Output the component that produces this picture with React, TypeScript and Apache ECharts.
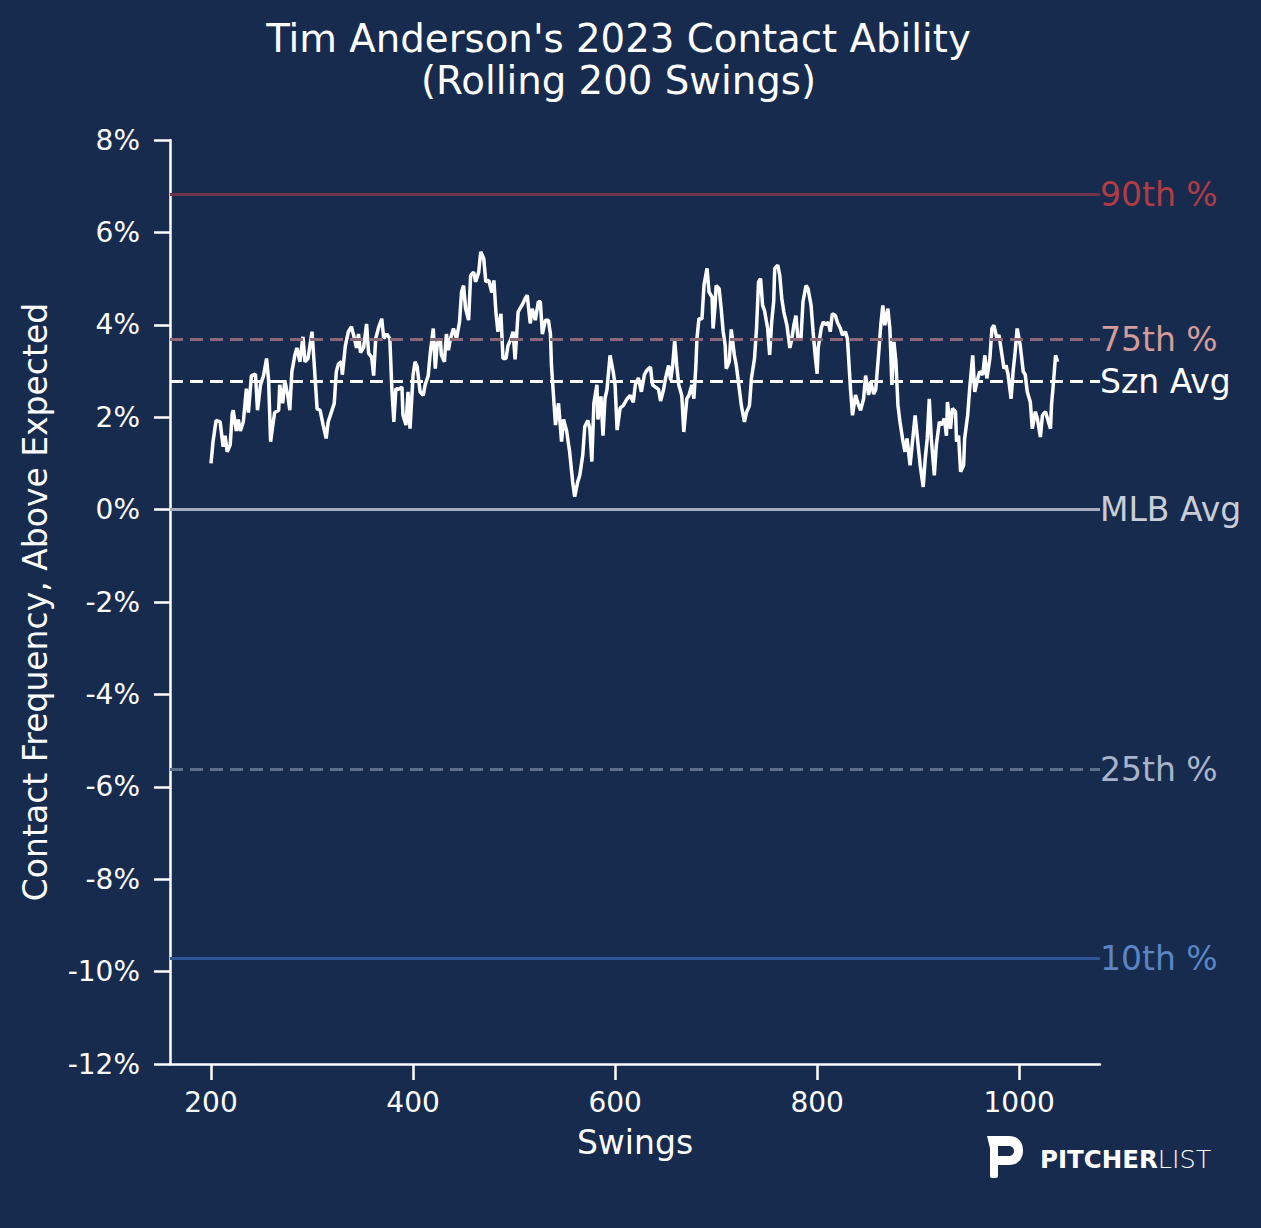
import React, { useEffect, useRef } from "react";
import * as echarts from "echarts";

// Rolling 200-swing contact frequency above expected (%)
const swings = [
  200, 202, 205, 209, 212, 214, 216, 219, 221, 222, 225, 227, 229, 232, 235, 237, 240, 244, 246, 249,
  252, 255, 257, 259, 261, 263, 267, 268, 271, 273, 276, 278, 280, 283, 285, 288, 291, 293, 296, 300,
  302, 305, 308, 311, 314, 316, 319, 322, 324, 326, 329, 330, 333, 336, 339, 342, 344, 346, 348, 351,
  354, 356, 359, 361, 363, 366, 369, 371, 374, 377, 379, 381, 383, 385, 389, 390, 393, 395, 397, 400,
  402, 404, 407, 410, 412, 415, 417, 420, 422, 424, 427, 428, 431, 433, 435, 437, 440, 443, 446, 448,
  450, 452, 455, 457, 460, 462, 465, 467, 470, 472, 475, 478, 480, 482, 484, 487, 489, 492, 494, 497,
  499, 501, 504, 508, 511, 513, 516, 518, 521, 524, 526, 528, 531, 534, 536,
  537, 541, 544, 547, 549, 552, 555, 558, 560, 563, 565, 568, 570, 573, 575, 577, 579, 582, 583, 586,
  588, 590, 592, 595, 598, 600, 602, 605, 608, 612, 615, 618, 620, 623, 626, 629, 631, 635, 637, 640,
  643, 645, 648, 650, 653, 655, 657, 659, 661, 663, 666, 668, 671, 673, 676, 678, 680, 681, 683, 686,
  688, 691, 693, 696, 697, 699, 700, 703, 705, 707, 709, 710, 713, 715, 718, 720, 723, 725, 728, 730,
  733, 735, 738, 740, 742, 744, 746, 748, 751, 753, 755, 757, 758, 761, 763, 765, 767, 770, 773, 775,
  777, 779, 781, 784, 786, 789, 791, 794, 796, 798, 800, 801, 804, 806, 809, 811, 813, 815, 818, 820,
  823, 825, 828, 830, 833,
  835, 838, 841, 843, 846, 848, 851, 853, 856, 858, 861, 863, 865, 867, 870, 872, 874, 876, 878, 880,
  882, 885, 887, 889, 892, 895, 897, 899, 902, 905, 907, 909, 911, 913, 916, 918, 921, 923, 926, 928,
  929, 932, 934, 937, 938, 940, 942, 945, 946, 949, 951, 954, 956, 959, 961, 964, 966, 968, 971, 973,
  975, 978, 980, 983, 985, 987, 989, 992, 994, 996, 998, 1001, 1004, 1006, 1008, 1011, 1013, 1016, 1018, 1021,
  1023, 1026, 1028, 1031, 1032, 1034, 1036, 1038,
];

const contactAboveExpected = [
  1.0, 1.47, 1.93, 1.9, 1.36, 1.6, 1.25, 1.4, 2.08, 2.15, 1.7, 1.95, 1.7, 1.9, 2.62, 2.1, 2.9, 2.93, 2.15, 2.7,
  2.9, 3.27, 2.8, 1.47, 1.8, 2.1, 2.15, 2.7, 2.3, 2.8, 2.47, 2.15, 2.98, 3.34, 3.5, 3.2, 3.74, 3.2, 3.27, 3.85,
  3.2, 2.18, 2.15, 1.83, 1.54, 1.9, 2.1, 2.3, 2.98, 3.15, 3.2, 2.92, 3.55, 3.85, 3.96, 3.7, 3.5, 3.8, 3.4, 3.5,
  4.02, 3.38, 3.3, 2.9, 3.7, 3.95, 4.13, 3.7, 3.8, 3.7, 2.62, 1.9, 2.62, 2.6, 2.65, 2.05, 1.83, 2.55, 1.75, 2.9,
  3.2, 3.1, 2.55, 2.47, 2.7, 2.9, 3.38, 3.92, 3.05, 3.6, 3.7, 3.35, 3.2, 3.8, 3.45, 3.7, 3.92, 3.7, 4.06, 4.71,
  4.85, 4.35, 4.1, 5.07, 5.14, 4.93, 5.14, 5.58, 5.43, 4.93, 4.96, 4.7, 4.96, 4.28, 3.85, 4.24, 3.27, 3.27, 3.55, 3.7,
  3.85, 3.25, 4.28, 4.43, 4.57, 4.64, 4.03, 4.35, 4.1, 4.5, 4.5, 3.8, 4.1, 4.1, 3.8,
  3.12, 1.83, 2.3, 1.47, 1.95, 1.7, 1.25, 0.6, 0.28, 0.6, 0.74, 1.18, 1.8, 1.93, 1.75, 1.04, 2.3, 2.7, 1.95, 2.45,
  1.6, 2.4, 2.6, 3.34, 3.0, 2.7, 1.72, 2.2, 2.25, 2.4, 2.47, 2.32, 2.7, 2.85, 2.55, 2.92, 3.0, 3.09, 2.7, 2.65,
  2.6, 2.35, 2.6, 2.85, 3.12, 2.8, 3.12, 3.66, 3.12, 2.7, 2.47, 1.68, 2.4, 2.47, 2.7, 2.4, 3.12, 3.7, 4.13, 4.13,
  4.86, 5.22, 4.71, 4.6, 3.92, 4.42, 4.85, 4.78, 4.35, 3.85, 3.55, 3.05, 3.2, 3.9, 3.35, 3.12, 2.6, 2.25, 1.9, 2.1,
  2.25, 2.85, 3.27, 3.92, 4.93, 5.0, 4.42, 4.3, 3.92, 3.35, 4.06, 4.5, 5.22, 5.29, 5.07, 4.57, 4.28, 4.0, 3.5, 3.7,
  4.0, 4.2, 3.7, 3.7, 4.5, 4.85, 4.78, 4.42, 3.85, 3.35, 2.94, 3.5, 3.92, 4.06, 4.0, 4.06, 3.85, 4.24, 4.2, 4.06,
  3.92, 3.78, 3.85, 3.7, 2.62,
  2.04, 2.48, 2.26, 2.15, 2.4, 2.9, 2.48, 2.77, 2.5, 2.6, 3.41, 3.99, 4.42, 3.99, 4.35, 3.92, 2.7, 3.63, 3.2, 2.26,
  1.9, 1.47, 1.25, 1.54, 0.96, 1.6, 2.04, 1.6, 0.96, 0.49, 1.1, 1.54, 2.4, 1.54, 0.74, 1.4, 1.9, 1.83, 1.97, 1.6,
  2.33, 1.75, 2.19, 2.12, 1.47, 1.6, 0.82, 0.96, 1.54, 2.04, 2.62, 3.34, 2.55, 2.84, 2.99, 2.92, 3.34, 2.84, 3.27, 3.92,
  3.99, 3.7, 3.78, 3.34, 3.05, 3.12, 2.92, 2.4, 2.99, 3.41, 3.92, 3.56, 2.99, 2.92, 2.55, 2.33, 1.75, 2.12, 1.97, 1.57,
  2.04, 2.12, 1.97, 1.75, 2.26, 2.77, 3.34, 3.2,
];

const xTickValues = [200, 400, 600, 800, 1000];
const yTickMin = -12;
const yTickMax = 8;
const yTickStep = 2;

const refNames = ["90th %", "75th %", "Szn Avg", "MLB Avg", "25th %", "10th %"];
const refValues = [6.82, 3.68, 2.77, 0, -5.63, -9.72];

// styles (kept apart from the data)
const refLineColors = ["#6f3449", "#8a6877", "#ffffff", "#a7adba", "#5d6d8c", "#2d5596"];
const refLabelColors = ["#b13c42", "#d49b99", "#ffffff", "#c9cdd6", "#a9b4cb", "#5b85c3"];
const refDashed = [false, true, true, false, true, false];

const BG = "#172b4f";
const FONT = "DejaVu Sans";

const pLogoPath =
  "M0 0 L22 0 C31 0 36 6 36 14.5 C36 23 31 29 22 29 L11 29 L11 40 C11 41.2 10.2 42 9 42 L5 42 C3.8 42 3 41.2 3 40 L3 12 Z " +
  "M11 10 L11 20 L22 20 C25 20 27 17.8 27 15 C27 12.2 25 10 22 10 Z";

let logoRegistered = false;
function registerLogo() {
  if (logoRegistered) return;
  echarts.graphic.registerShape("plogo", echarts.graphic.extendPath(pLogoPath, {}) as any);
  logoRegistered = true;
}

export default function App() {
  const ref = useRef<HTMLDivElement>(null);

  useEffect(() => {
    if (!ref.current) return;
    registerLogo();
    const chart = echarts.init(ref.current, undefined, { renderer: "svg" });

    const lineData = swings.map((s, i) => [s, contactAboveExpected[i]]);

    const option: any = {
      animation: false,
      backgroundColor: BG,
      textStyle: { fontFamily: FONT },
      grid: { left: 170, right: 161, top: 140, bottom: 164, containLabel: false },
      xAxis: {
        type: "value",
        min: 159.4,
        max: 1080,
        name: "Swings",
        nameLocation: "middle",
        nameGap: 62,
        nameTextStyle: { color: "#ffffff", fontSize: 33, fontFamily: FONT },
        axisLine: { show: true, onZero: false, lineStyle: { color: "#ffffff", width: 2.5 } },
        axisTick: { show: true, length: 16, customValues: xTickValues, lineStyle: { color: "#ffffff", width: 2.5 } },
        axisLabel: {
          color: "#ffffff",
          fontSize: 28,
          fontFamily: FONT,
          margin: 24,
          customValues: xTickValues,
          formatter: (v: number) => String(Math.round(v)),
        },
        splitLine: { show: false },
      },
      yAxis: {
        type: "value",
        min: yTickMin,
        max: yTickMax,
        interval: yTickStep,
        name: "Contact Frequency, Above Expected",
        nameLocation: "middle",
        nameGap: 118,
        nameTextStyle: { color: "#ffffff", fontSize: 33, fontFamily: FONT },
        axisLine: { show: true, onZero: false, lineStyle: { color: "#ffffff", width: 2.5 } },
        axisTick: { show: true, length: 16, lineStyle: { color: "#ffffff", width: 2.5 } },
        axisLabel: { color: "#ffffff", fontSize: 28, fontFamily: FONT, margin: 30, formatter: "{value}%" },
        splitLine: { show: false },
      },
      series: [
        {
          type: "line",
          data: [],
          z: 1,
          silent: true,
          markLine: {
            silent: true,
            symbol: ["none", "none"],
            data: refNames.map((n, i) => ({
              name: n,
              yAxis: refValues[i],
              lineStyle: {
                color: refLineColors[i],
                width: 3,
                type: refDashed[i] ? [13, 7] : "solid",
              },
              label: {
                show: true,
                position: "end",
                formatter: "{b}",
                color: refLabelColors[i],
                fontSize: 33,
                fontFamily: FONT,
                distance: 0,
              },
            })),
          },
        },
        {
          type: "line",
          data: lineData,
          z: 3,
          showSymbol: false,
          lineStyle: { color: "#ffffff", width: 3.5 },
        },
      ],
      graphic: [
        {
          type: "text",
          x: 618.5,
          y: 38,
          style: {
            text: "Tim Anderson's 2023 Contact Ability",
            fill: "#ffffff",
            font: `38.7px "${FONT}"`,
            textAlign: "center",
            textVerticalAlign: "middle",
          },
        },
        {
          type: "text",
          x: 618.5,
          y: 80,
          style: {
            text: "(Rolling 200 Swings)",
            fill: "#ffffff",
            font: `38.7px "${FONT}"`,
            textAlign: "center",
            textVerticalAlign: "middle",
          },
        },
        {
          type: "plogo",
          x: 987,
          y: 1136,
          scaleX: 1,
          scaleY: 1,
          style: { fill: "#ffffff" },
        },
        {
          type: "text",
          x: 1040,
          y: 1159,
          style: {
            text: "{b|PITCHER}{l|LIST}",
            textVerticalAlign: "middle",
            rich: {
              b: { fill: "#ffffff", fontSize: 24.5, fontWeight: "bold", fontFamily: FONT },
              l: { fill: "#ffffff", fontSize: 25.5, fontWeight: 200, fontFamily: FONT },
            },
          },
        },
      ],
    };

    chart.setOption(option);
    return () => chart.dispose();
  }, []);

  return (
    <div
      ref={ref}
      style={{ position: "absolute", left: 0, top: 0, width: 1261, height: 1228, background: BG }}
    />
  );
}
